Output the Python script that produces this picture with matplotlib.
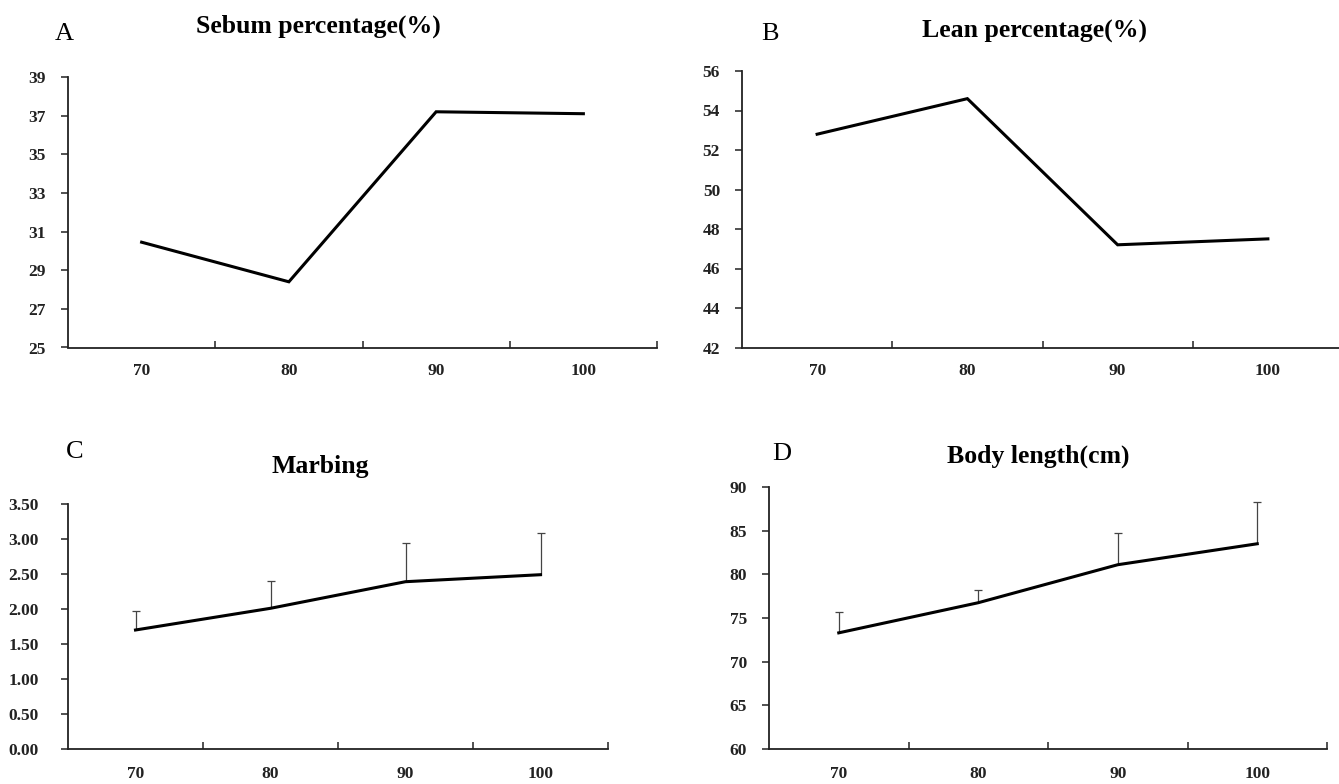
import numpy as np
import matplotlib.pyplot as plt

plt.rcParams['font.family'] = ['Liberation Serif', 'DejaVu Serif']

# Data
categories = ['70', '80', '90', '100']

sebum = [30.45, 28.4, 37.2, 37.1]
lean = [52.8, 54.6, 47.2, 47.5]
marbing = [1.70, 2.01, 2.39, 2.49]
marbing_err = [0.27, 0.39, 0.56, 0.60]
body_length = [73.3, 76.75, 81.1, 83.5]
body_length_err = [2.4, 1.5, 3.6, 4.75]

W, H = 1339, 784
dpi = 100
fig = plt.figure(figsize=(W / dpi, H / dpi), dpi=dpi)


def px_axes(left, right, top, bottom):
    return fig.add_axes([left / W, 1 - bottom / H, (right - left) / W, (bottom - top) / H])


def style_axes(ax, yticks, fmt, ypad=10.8, xpad=11):
    x = np.arange(len(categories))
    ax.set_xlim(-0.5, len(categories) - 0.5)
    ax.set_ylim(yticks[0], yticks[-1])
    ax.set_yticks(yticks)
    ax.set_yticklabels([fmt.format(v) for v in yticks])
    # category boundaries as major ticks, labels on minor ticks
    ax.set_xticks(x + 0.5)
    ax.set_xticklabels([])
    ax.set_xticks(x, minor=True)
    ax.set_xticklabels(categories, minor=True)
    ax.tick_params(axis='x', which='major', direction='in', length=5, width=1.1, color='#222222')
    ax.tick_params(axis='x', which='minor', length=0, pad=xpad, labelsize=12.5)
    ax.tick_params(axis='y', direction='out', length=5, width=1.1, color='#222222',
                   pad=ypad, labelsize=12.5)
    for lab in ax.get_xticklabels(minor=True) + ax.get_yticklabels():
        lab.set_fontweight('bold')
        lab.set_color('#222222')
    for s in ['top', 'right']:
        ax.spines[s].set_visible(False)
    for s in ['left', 'bottom']:
        ax.spines[s].set_linewidth(1.3)
        ax.spines[s].set_color('#222222')
        ax.spines[s].set_clip_on(False)
    return x


line_kw = dict(color='black', linewidth=2.2, solid_joinstyle='miter', zorder=3)


def upper_err(ax, x, y, err):
    # upper-only error bars with a cap at the top
    ax.errorbar(x, y, yerr=[np.zeros(len(x)), err], fmt='none', ecolor='#444444',
                elinewidth=0.9, capsize=0, zorder=2)
    tops = np.array(y) + np.array(err)
    ax.plot(x, tops, linestyle='none', marker='_', markersize=6,
            markeredgewidth=0.9, color='#444444', zorder=2)


# A
axA = px_axes(68, 657, 77, 347.5)
x = style_axes(axA, np.arange(25, 40, 2), '{:d}')
axA.plot(x, sebum, **line_kw)

# B
axB = px_axes(742, 1343, 71, 347.5)
x = style_axes(axB, np.arange(42, 57, 2), '{:d}')
axB.plot(x, lean, **line_kw)

# C
axC = px_axes(68, 608, 504, 749)
x = style_axes(axC, np.arange(0, 3.51, 0.5), '{:.2f}', ypad=16, xpad=12)
upper_err(axC, x, marbing, marbing_err)
axC.plot(x, marbing, **line_kw)

# D
axD = px_axes(769, 1327, 487, 749)
x = style_axes(axD, np.arange(60, 91, 5), '{:d}', xpad=12)
upper_err(axD, x, body_length, body_length_err)
axD.plot(x, body_length, **line_kw)


# Panel letters and titles
def fig_text(xp, yp, s, **kw):
    fig.text(xp / W, 1 - yp / H, s, va='baseline', ha='center', **kw)


fig_text(64, 40, 'A', fontsize=19)
fig_text(770, 40, 'B', fontsize=19)
fig_text(75, 458, 'C', fontsize=19)
fig_text(782, 460, 'D', fontsize=19)

title_kw = dict(fontsize=18.5, fontweight='bold')
fig_text(318, 33, 'Sebum percentage(%)', **title_kw)
fig_text(1034, 38, 'Lean percentage(%)', **title_kw)
fig_text(320, 473, 'Marbing', **title_kw)
fig_text(1038, 463, 'Body length(cm)', **title_kw)

fig.savefig('out.png', dpi=dpi)
